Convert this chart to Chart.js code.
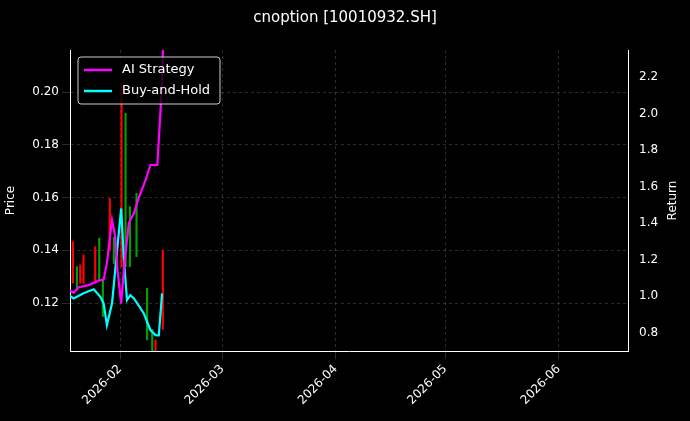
<!DOCTYPE html>
<html>
<head>
<meta charset="utf-8">
<script src="https://cdn.jsdelivr.net/npm/chart.js@4"></script>
<style>
html, body { margin: 0; padding: 0; background: #000; }
#wrap { width: 690px; height: 421px; }
</style>
</head>
<body>
<div id="wrap"><canvas id="optChart"></canvas></div>
<script>
// day of year 2026 (Jan 1 = 0)
var candleDays = [18.1, 19.2, 20.1, 21, 24.2, 25.3, 26.3, 28.2, 29.3, 31.4, 32.5, 33.7, 35.5, 38.4, 39.8, 40.7, 42.7];
var candleLow  = [0.1276, 0.125, 0.1275, 0.1275, 0.1275, 0.1288, 0.1149, 0.140, 0.135, 0.1338, 0.1338, 0.1338, 0.1376, 0.106, 0.100, 0.100, 0.110];
var candleHigh = [0.1433, 0.1338, 0.1345, 0.1383, 0.1414, 0.1446, 0.1288, 0.1597, 0.145, 0.2033, 0.192, 0.1566, 0.1616, 0.1256, 0.110, 0.106, 0.140];
var candleUp   = [false, true, false, false, false, true, true, false, true, false, true, true, true, true, true, false, false];

var bhDays = [16.5, 17.4, 18.3, 19.2, 21, 23.8, 25.6, 26.5, 27.4, 28.8, 30.2, 31.3, 32, 32.9, 33.8, 34.8, 35.7, 37.5, 39.3, 40.7, 41.6, 42.5];
var bhVals = [0.987, 1.0, 0.987, 0.996, 1.015, 1.037, 0.996, 0.96, 0.84, 0.96, 1.25, 1.48, 1.215, 0.978, 1.005, 0.987, 0.96, 0.905, 0.814, 0.786, 0.785, 1.015];

var aiDays = [16.5, 17.4, 18.3, 19.7, 22.4, 25.1, 26.5, 27.4, 28.8, 29.7, 30.2, 31.3, 32.2, 33.4, 34.8, 36.2, 38, 39.3, 41.2, 42.5, 42.9];
var aiVals = [1.018, 1.029, 1.018, 1.048, 1.06, 1.084, 1.09, 1.18, 1.416, 1.325, 1.16, 0.96, 1.18, 1.4, 1.453, 1.544, 1.636, 1.718, 1.718, 2.165, 2.5];

var tickDays = [31, 59, 90, 120, 151];
var tickLabels = ['2026-02', '2026-03', '2026-04', '2026-05', '2026-06'];

var candleData = candleDays.map(function (d, i) { return { x: d, y: [candleLow[i], candleHigh[i]] }; });
var candleColors = candleUp.map(function (u) { return u ? '#00a000' : '#ff0000'; });

var insideLegend = {
    id: 'insideLegend',
    afterDraw: function (chart) {
        var c = chart.ctx, a = chart.chartArea;
        var x = a.left + 8, y = a.top + 7;
        c.save();
        c.fillStyle = 'rgba(0,0,0,0.8)';
        c.strokeStyle = '#cccccc';
        c.lineWidth = 1;
        c.beginPath();
        c.roundRect(x, y, 142, 47, 3);
        c.fill(); c.stroke();
        var items = [['AI Strategy', '#ff00ff'], ['Buy-and-Hold', '#00ffff']];
        c.font = '13px "DejaVu Sans"';
        c.textBaseline = 'middle';
        items.forEach(function (it, i) {
            var ly = y + 13 + i * 21;
            c.strokeStyle = it[1]; c.lineWidth = 2.5;
            c.beginPath(); c.moveTo(x + 6, ly); c.lineTo(x + 34, ly); c.stroke();
            c.fillStyle = '#ffffff';
            c.fillText(it[0], x + 44, ly);
        });
        // right axis title, reading bottom to top
        c.translate(673, (a.top + a.bottom) / 2);
        c.rotate(-Math.PI / 2);
        c.textAlign = 'center';
        c.font = '12px "DejaVu Sans"';
        c.fillText('Return', 0, 0);
        c.restore();
    }
};

var bgPlugin = {
    id: 'bg',
    beforeDraw: function (chart) {
        var c = chart.ctx;
        c.save(); c.fillStyle = '#000'; c.fillRect(0, 0, chart.width, chart.height); c.restore();
    }
};

Chart.defaults.color = '#ffffff';
Chart.defaults.font.family = 'DejaVu Sans';

var grid = { color: 'rgba(160,160,160,0.45)', lineWidth: 0.6, offset: false };
var border = { color: '#ffffff', dash: [3, 3] };

new Chart(document.getElementById('optChart').getContext('2d'), {
    type: 'bar',
    data: {
        datasets: [{
            type: 'bar',
            label: 'Candles',
            data: candleData,
            backgroundColor: candleColors,
            barThickness: 1.5,
            yAxisID: 'y',
            order: 3
        }, {
            type: 'line',
            label: 'AI Strategy',
            data: aiDays.map(function (d, i) { return { x: d, y: aiVals[i] }; }),
            borderColor: '#ff00ff',
            borderWidth: 2.2,
            pointRadius: 0,
            tension: 0,
            yAxisID: 'y2',
            order: 1
        }, {
            type: 'line',
            label: 'Buy-and-Hold',
            data: bhDays.map(function (d, i) { return { x: d, y: bhVals[i] }; }),
            borderColor: '#00ffff',
            borderWidth: 2.2,
            pointRadius: 0,
            tension: 0,
            yAxisID: 'y2',
            order: 2
        }]
    },
    options: {
        responsive: true,
        maintainAspectRatio: false,
        animation: false,
        layout: { padding: 0 },
        plugins: {
            legend: { display: false },
            tooltip: { enabled: false },
            title: {
                display: true,
                text: 'cnoption [10010932.SH]',
                color: '#ffffff',
                font: { size: 15, weight: 'normal' },
                padding: { top: 9, bottom: 23 }
            }
        },
        scales: {
            x: {
                type: 'linear',
                min: 17.3, max: 170,
                offset: false,
                grid: grid,
                border: border,
                afterBuildTicks: function (s) { s.ticks = tickDays.map(function (v) { return { value: v }; }); },
                afterFit: function (s) { s.height = 70; },
                ticks: {
                    maxRotation: 45, minRotation: 45,
                    font: { size: 12 },
                    callback: function (v) { return tickLabels[tickDays.indexOf(v)]; }
                }
            },
            y: {
                position: 'left',
                min: 0.1018, max: 0.216,
                grid: grid,
                border: border,
                afterBuildTicks: function (s) { s.ticks = [0.12, 0.14, 0.16, 0.18, 0.20].map(function (v) { return { value: v }; }); },
                afterFit: function (s) { s.width = 70; },
                title: { display: true, text: 'Price', font: { size: 12 } },
                ticks: { font: { size: 12 }, callback: function (v) { return v.toFixed(2); } }
            },
            y2: {
                position: 'right',
                min: 0.699, max: 2.348,
                grid: { display: false },
                border: { color: '#ffffff' },
                afterBuildTicks: function (s) { s.ticks = [0.8, 1.0, 1.2, 1.4, 1.6, 1.8, 2.0, 2.2].map(function (v) { return { value: v }; }); },
                afterFit: function (s) { s.width = 62; },
                ticks: { font: { size: 12 }, callback: function (v) { return v.toFixed(1); } }
            }
        }
    },
    plugins: [bgPlugin, insideLegend]
});
</script>
</body>
</html>
